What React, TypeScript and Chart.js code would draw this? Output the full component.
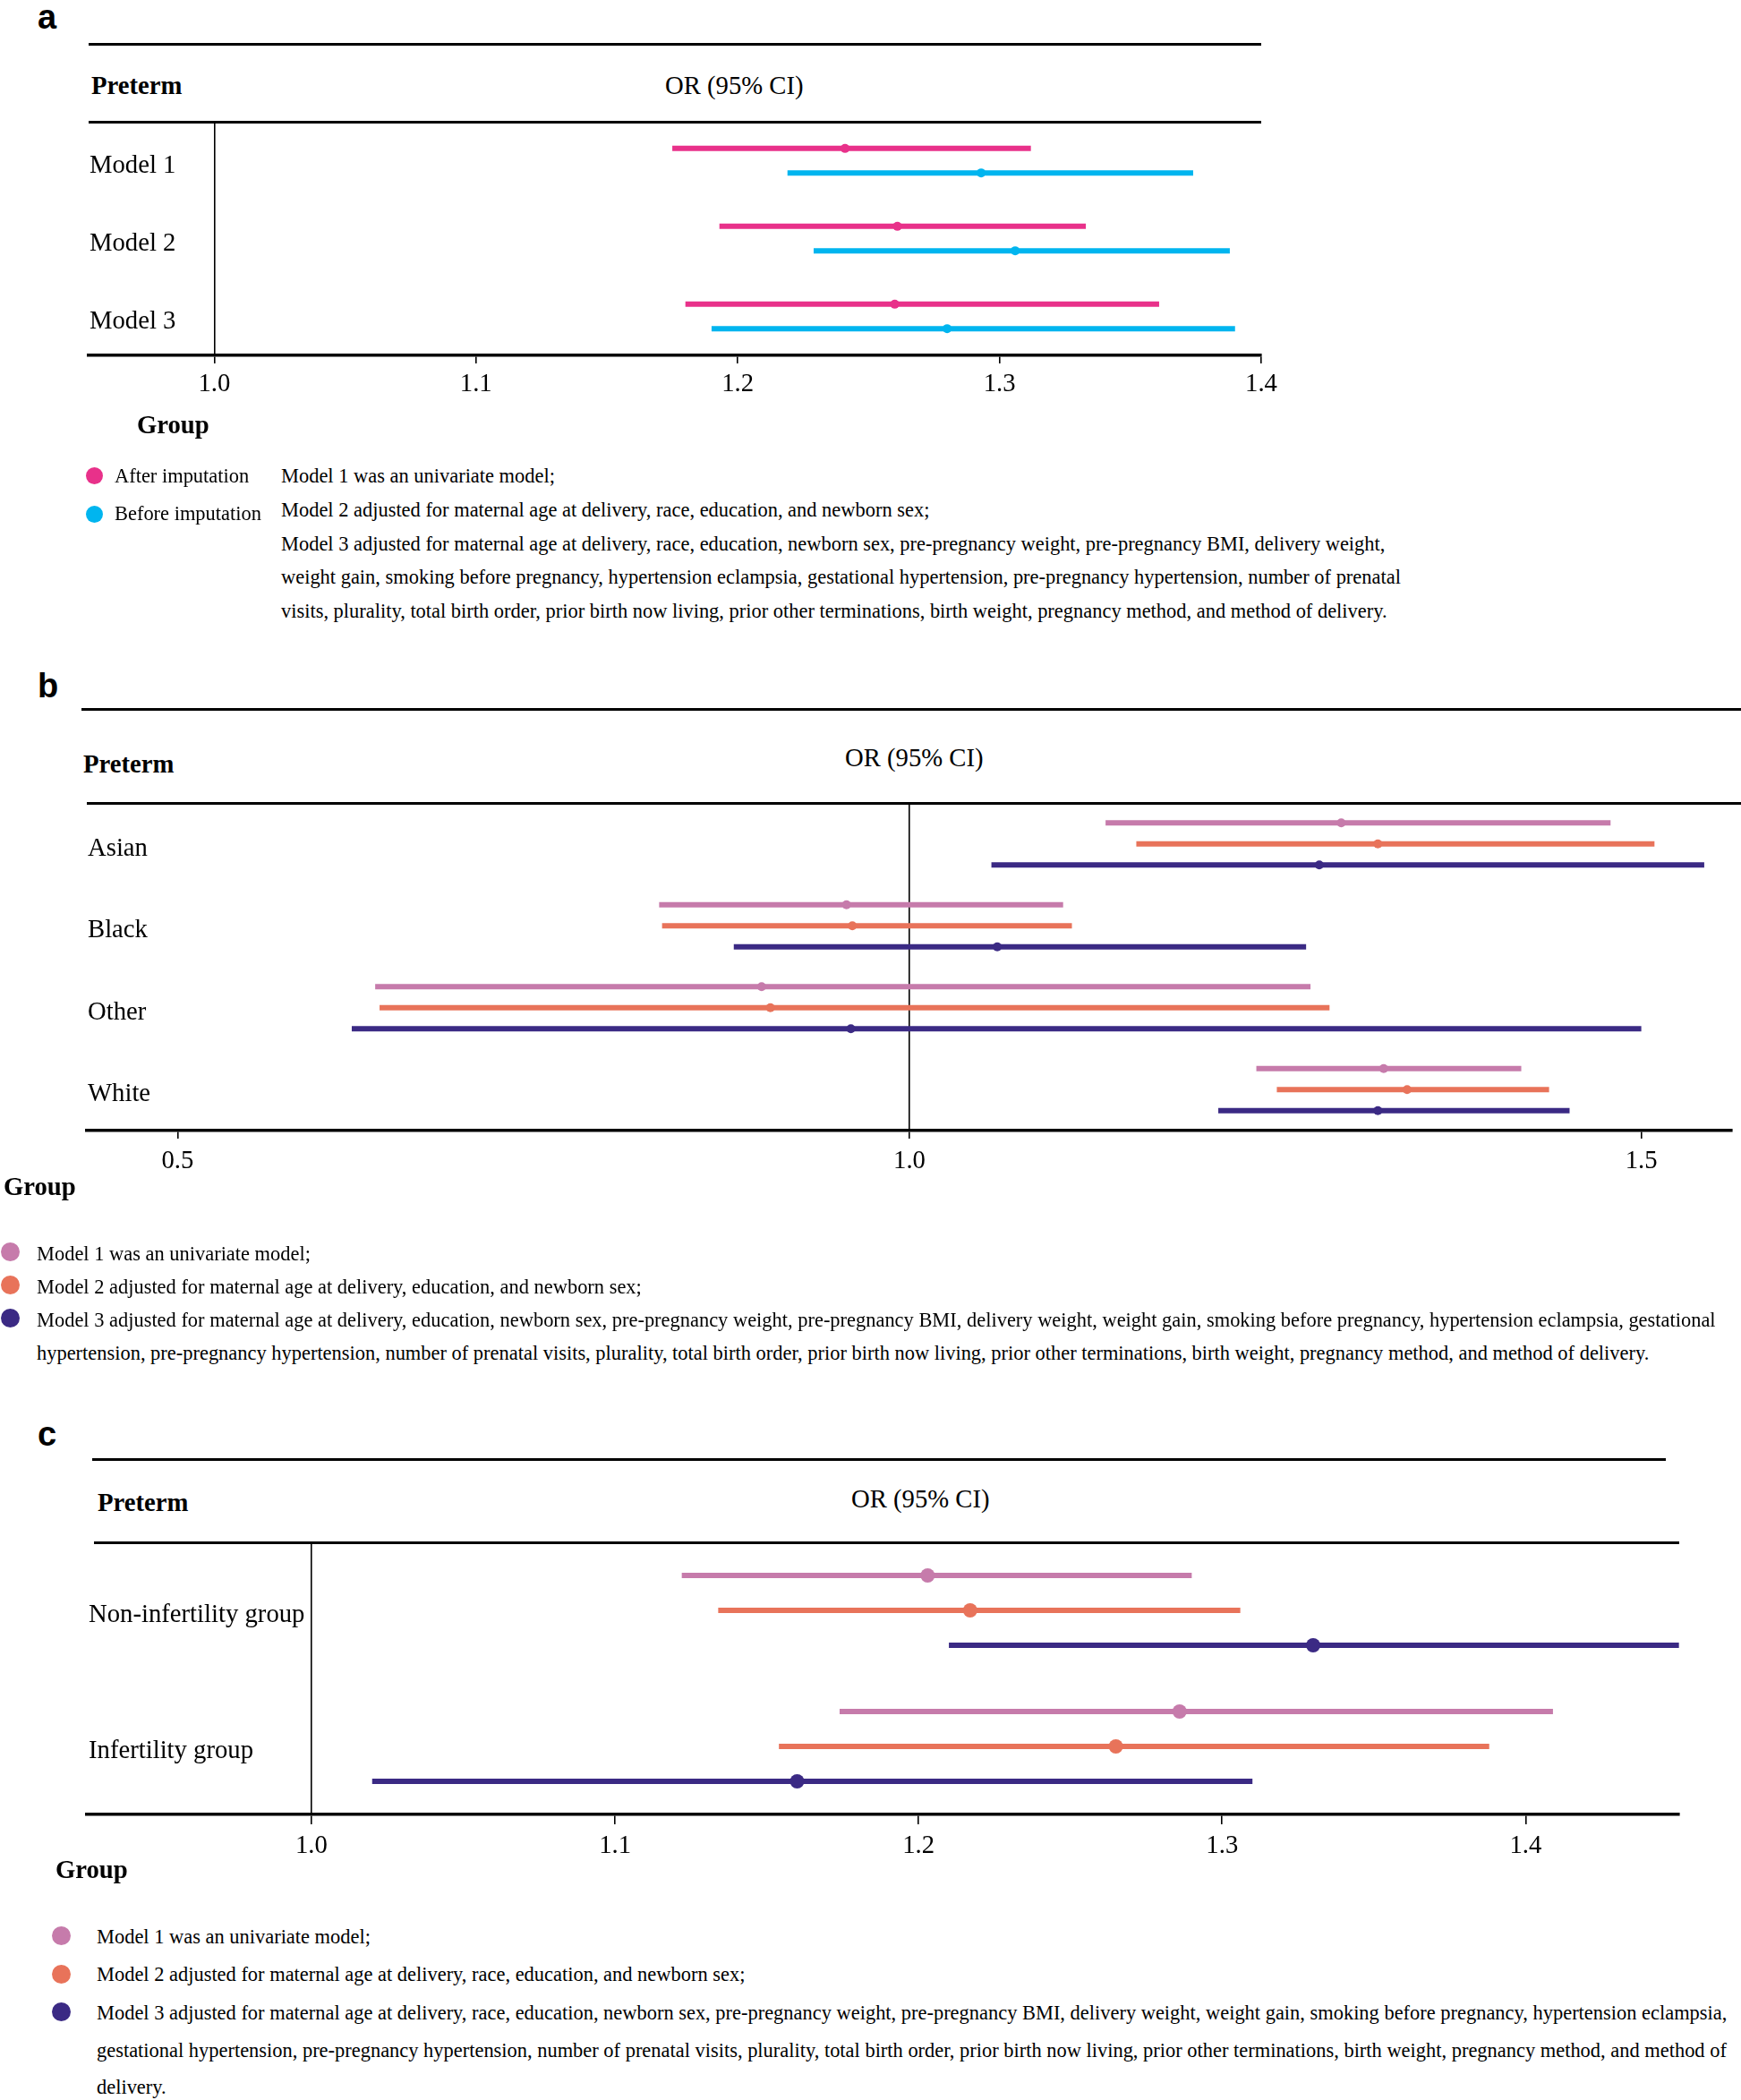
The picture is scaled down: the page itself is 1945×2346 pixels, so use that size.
import React, { useEffect, useRef } from 'react';
import { Chart, registerables } from 'chart.js';

Chart.register(...registerables);

const SERIF = '"Liberation Serif", "Times New Roman", serif';
const SANS = '"Liberation Sans", Arial, sans-serif';

// ---------- Panel a data ----------
const catsA = ['Model 1', 'Model 2', 'Model 3'];
const afterImpOR = [1.241, 1.261, 1.260];
const afterImpLo = [1.175, 1.193, 1.180];
const afterImpHi = [1.312, 1.333, 1.361];
const beforeImpOR = [1.293, 1.306, 1.280];
const beforeImpLo = [1.219, 1.229, 1.190];
const beforeImpHi = [1.374, 1.388, 1.390];
const ticksA = [1.0, 1.1, 1.2, 1.3, 1.4];
const tickLabelsA = ['1.0', '1.1', '1.2', '1.3', '1.4'];

// ---------- Panel b data ----------
const catsB = ['Asian', 'Black', 'Other', 'White'];
const raceM1OR = [1.295, 0.957, 0.899, 1.324];
const raceM1Lo = [1.134, 0.829, 0.635, 1.237];
const raceM1Hi = [1.479, 1.105, 1.274, 1.418];
const raceM2OR = [1.320, 0.961, 0.905, 1.340];
const raceM2Lo = [1.155, 0.831, 0.638, 1.251];
const raceM2Hi = [1.509, 1.111, 1.287, 1.437];
const raceM3OR = [1.280, 1.060, 0.960, 1.320];
const raceM3Lo = [1.056, 0.880, 0.619, 1.211];
const raceM3Hi = [1.543, 1.271, 1.500, 1.451];
const ticksB = [0.5, 1.0, 1.5];
const tickLabelsB = ['0.5', '1.0', '1.5'];

// ---------- Panel c data ----------
const catsC = ['Non-infertility group', 'Infertility group'];
const infM1OR = [1.203, 1.286];
const infM1Lo = [1.122, 1.174];
const infM1Hi = [1.290, 1.409];
const infM2OR = [1.217, 1.265];
const infM2Lo = [1.134, 1.154];
const infM2Hi = [1.306, 1.388];
const infM3OR = [1.330, 1.160];
const infM3Lo = [1.210, 1.020];
const infM3Hi = [1.4505, 1.310];
const ticksC = [1.0, 1.1, 1.2, 1.3, 1.4];
const tickLabelsC = ['1.0', '1.1', '1.2', '1.3', '1.4'];

const PINK = '#e8318a';
const BLUE = '#00b5ef';
const M1C = '#c67bab';
const M2C = '#e8735a';
const M3C = '#3b2a84';

const notesA = [
  'Model 1 was an univariate model;',
  'Model 2 adjusted for maternal age at delivery, race, education, and newborn sex;',
  'Model 3 adjusted for maternal age at delivery, race, education, newborn sex, pre-pregnancy weight, pre-pregnancy BMI, delivery weight,',
  'weight gain, smoking before pregnancy, hypertension eclampsia, gestational hypertension, pre-pregnancy hypertension, number of prenatal',
  'visits, plurality, total birth order, prior birth now living, prior other terminations, birth weight, pregnancy method, and method of delivery.',
];
const notesB = [
  'Model 1 was an univariate model;',
  'Model 2 adjusted for maternal age at delivery, education, and newborn sex;',
  'Model 3 adjusted for maternal age at delivery, education, newborn sex, pre-pregnancy weight, pre-pregnancy BMI, delivery weight, weight gain, smoking before pregnancy, hypertension eclampsia, gestational',
  'hypertension, pre-pregnancy hypertension, number of prenatal visits, plurality, total birth order, prior birth now living, prior other terminations, birth weight, pregnancy method, and method of delivery.',
];
const notesC = [
  'Model 1 was an univariate model;',
  'Model 2 adjusted for maternal age at delivery, race, education, and newborn sex;',
  'Model 3 adjusted for maternal age at delivery, race, education, newborn sex, pre-pregnancy weight, pre-pregnancy BMI, delivery weight, weight gain, smoking before pregnancy, hypertension eclampsia,',
  'gestational hypertension, pre-pregnancy hypertension, number of prenatal visits, plurality, total birth order, prior birth now living, prior other terminations, birth weight, pregnancy method, and method of',
  'delivery.',
];

type Series = { label: string; color: string; or: number[]; lo: number[]; hi: number[] };
type PanelCfg = {
  cats: string[];
  series: Series[];
  offsets: number[];
  xmin: number;
  xmax: number;
  ticks: number[];
  tickLabels: string[];
  area: { l: number; r: number; t: number; b: number };
  tickLen: number;
  tickPad: number;
  labelPad: number;
  lineWidth: number;
  pointRadius: number;
};

const FONT_SIZE = 28.7;
const PADL = 20;
const PADR = 40;
const PADT = 30;
const XH = 70;

function ForestChart({ cfg }: { cfg: PanelCfg }) {
  const ref = useRef<HTMLCanvasElement>(null);
  const { l, r, t, b } = cfg.area;
  const width = Math.round(r - l + PADL + PADR);
  const height = Math.round(b - t + PADT + XH);

  useEffect(() => {
    const datasets: any[] = [];
    cfg.series.forEach((s, si) => {
      s.or.forEach((v, ci) => {
        const y = ci + 0.5 + cfg.offsets[si];
        datasets.push({
          type: 'scatter',
          label: s.label + ' - ' + cfg.cats[ci],
          data: [
            { x: s.lo[ci], y },
            { x: v, y },
            { x: s.hi[ci], y },
          ],
          showLine: true,
          borderColor: s.color,
          backgroundColor: s.color,
          borderWidth: cfg.lineWidth,
          borderCapStyle: 'butt',
          pointRadius: (c: any) => (c.dataIndex === 1 ? cfg.pointRadius : 0),
          pointHoverRadius: (c: any) => (c.dataIndex === 1 ? cfg.pointRadius : 0),
          pointBorderWidth: 0,
          pointBackgroundColor: s.color,
          clip: false,
        });
      });
    });
    const font = { family: SERIF, size: FONT_SIZE };
    const chart = new Chart(ref.current as HTMLCanvasElement, {
      type: 'scatter',
      data: { datasets },
      options: {
        animation: false,
        responsive: false,
        maintainAspectRatio: false,
        events: [],
        layout: { padding: { left: PADL, right: PADR, top: PADT, bottom: 0 } },
        plugins: { legend: { display: false }, tooltip: { enabled: false } },
        scales: {
          x: {
            type: 'linear',
            min: cfg.xmin,
            max: cfg.xmax,
            afterBuildTicks: (sc: any) => {
              sc.ticks = cfg.ticks.map((v) => ({ value: v }));
            },
            afterFit: (sc: any) => {
              sc.height = XH;
            },
            ticks: {
              callback: (_v: any, i: number) => cfg.tickLabels[i],
              font,
              color: '#000',
              padding: cfg.tickPad,
              maxRotation: 0,
              autoSkip: false,
            },
            grid: {
              color: (c: any) => (c.tick && Math.abs(c.tick.value - 1) < 1e-9 ? '#000' : 'rgba(0,0,0,0)'),
              lineWidth: 1.6,
              drawOnChartArea: true,
              drawTicks: true,
              tickLength: cfg.tickLen,
              tickColor: '#000',
              tickWidth: 1.6,
            },
            border: { display: true, color: '#000', width: 3.5 },
          },
          y: {
            type: 'linear',
            min: 0,
            max: cfg.cats.length,
            reverse: true,
            afterBuildTicks: (sc: any) => {
              sc.ticks = cfg.cats.map((_c, i) => ({ value: i + 0.5 }));
            },
            afterFit: (sc: any) => {
              sc.width = 0;
            },
            ticks: {
              mirror: true,
              padding: cfg.labelPad,
              labelOffset: 5.5,
              callback: (_v: any, i: number) => cfg.cats[i],
              font,
              color: '#000',
              autoSkip: false,
            },
            grid: { display: false },
            border: { display: false },
          },
        },
      } as any,
    });
    return () => chart.destroy();
  }, []);

  return (
    <canvas
      ref={ref}
      width={width}
      height={height}
      style={{ position: 'absolute', left: l - PADL, top: t - PADT, width, height }}
    />
  );
}

function T({ x, y, size = FONT_SIZE, bold = false, family = SERIF, children }: any) {
  const lh = Math.round(size * 1.2);
  return (
    <div
      style={{
        position: 'absolute',
        left: x,
        top: y - lh / 2,
        lineHeight: lh + 'px',
        fontSize: size,
        fontFamily: family,
        fontWeight: bold ? 'bold' : 'normal',
        whiteSpace: 'nowrap',
        color: '#000',
      }}
    >
      {children}
    </div>
  );
}

function Rule({ x1, x2, y, w = 3 }: any) {
  return (
    <div
      style={{ position: 'absolute', left: x1, top: y - w / 2, width: x2 - x1, height: w, background: '#000' }}
    />
  );
}

function Dot({ x, y, r, color }: any) {
  return (
    <div
      style={{
        position: 'absolute',
        left: x - r,
        top: y - r,
        width: 2 * r,
        height: 2 * r,
        borderRadius: '50%',
        background: color,
      }}
    />
  );
}

const cfgA: PanelCfg = {
  cats: catsA,
  series: [
    { label: 'After imputation', color: PINK, or: afterImpOR, lo: afterImpLo, hi: afterImpHi },
    { label: 'Before imputation', color: BLUE, or: beforeImpOR, lo: beforeImpLo, hi: beforeImpHi },
  ],
  offsets: [-0.157, 0.157],
  xmin: 0.952,
  xmax: 1.4,
  ticks: ticksA,
  tickLabels: tickLabelsA,
  area: { l: 99, r: 1409, t: 136.3, b: 397.3 },
  tickLen: 9,
  tickPad: 6.6,
  labelPad: 1,
  lineWidth: 6,
  pointRadius: 5,
};

const cfgB: PanelCfg = {
  cats: catsB,
  series: [
    { label: 'Model 1', color: M1C, or: raceM1OR, lo: raceM1Lo, hi: raceM1Hi },
    { label: 'Model 2', color: M2C, or: raceM2OR, lo: raceM2Lo, hi: raceM2Hi },
    { label: 'Model 3', color: M3C, or: raceM3OR, lo: raceM3Lo, hi: raceM3Hi },
  ],
  offsets: [-0.256, 0, 0.256],
  xmin: 0.438,
  xmax: 1.562,
  ticks: ticksB,
  tickLabels: tickLabelsB,
  area: { l: 97, r: 1935, t: 897.3, b: 1262.8 },
  tickLen: 9,
  tickPad: 8,
  labelPad: 1,
  lineWidth: 6,
  pointRadius: 5,
};

const cfgC: PanelCfg = {
  cats: catsC,
  series: [
    { label: 'Model 1', color: M1C, or: infM1OR, lo: infM1Lo, hi: infM1Hi },
    { label: 'Model 2', color: M2C, or: infM2OR, lo: infM2Lo, hi: infM2Hi },
    { label: 'Model 3', color: M3C, or: infM3OR, lo: infM3Lo, hi: infM3Hi },
  ],
  offsets: [-0.2566, 0, 0.2566],
  xmin: 0.926,
  xmax: 1.4506,
  ticks: ticksC,
  tickLabels: tickLabelsC,
  area: { l: 97, r: 1876, t: 1723.2, b: 2027.1 },
  tickLen: 11,
  tickPad: 6.8,
  labelPad: 2,
  lineWidth: 6,
  pointRadius: 8,
};

const NOTE = 22.45;

export default function App() {
  return (
    <div style={{ position: 'absolute', left: 0, top: 0, width: 1945, height: 2346, background: '#fff', overflow: 'hidden' }}>
      {/* Panel a */}
      <T x={42} y={18.5} size={38} bold family={SANS}>a</T>
      <Rule x1={99} x2={1409} y={49.3} />
      <T x={102} y={95} bold>Preterm</T>
      <T x={743} y={95}>OR (95% CI)</T>
      <Rule x1={99} x2={1409} y={136.3} />
      <ForestChart cfg={cfgA} />
      <T x={153} y={474} bold>Group</T>
      <Dot x={105.5} y={531} r={9.5} color={PINK} />
      <T x={128} y={531} size={NOTE}>After imputation</T>
      <Dot x={105.5} y={574} r={9.5} color={BLUE} />
      <T x={128} y={573} size={NOTE}>Before imputation</T>
      {notesA.map((s, i) => (
        <T key={'na' + i} x={314} y={[531, 569, 607, 644, 682][i]} size={NOTE}>{s}</T>
      ))}

      {/* Panel b */}
      <T x={42} y={766} size={38} bold family={SANS}>b</T>
      <Rule x1={91} x2={1945} y={792.5} />
      <T x={93} y={853} bold>Preterm</T>
      <T x={944} y={846}>OR (95% CI)</T>
      <Rule x1={97} x2={1945} y={897.3} />
      <ForestChart cfg={cfgB} />
      <T x={4} y={1325} bold>Group</T>
      <Dot x={11} y={1398} r={10.5} color={M1C} />
      <Dot x={11} y={1435} r={10.5} color={M2C} />
      <Dot x={11} y={1472} r={10.5} color={M3C} />
      {notesB.map((s, i) => (
        <T key={'nb' + i} x={41} y={[1400, 1437, 1474, 1511][i]} size={NOTE}>{s}</T>
      ))}

      {/* Panel c */}
      <T x={42} y={1601.5} size={38} bold family={SANS}>c</T>
      <Rule x1={103} x2={1861} y={1630.7} />
      <T x={109} y={1678} bold>Preterm</T>
      <T x={951} y={1673.6}>OR (95% CI)</T>
      <Rule x1={105} x2={1876} y={1723.2} />
      <ForestChart cfg={cfgC} />
      <T x={62} y={2088} bold>Group</T>
      <Dot x={68.3} y={2162} r={10.5} color={M1C} />
      <Dot x={68.3} y={2205} r={10.5} color={M2C} />
      <Dot x={68.3} y={2247} r={10.5} color={M3C} />
      {notesC.map((s, i) => (
        <T key={'nc' + i} x={108} y={[2163, 2205, 2248, 2290, 2331][i]} size={NOTE}>{s}</T>
      ))}
    </div>
  );
}
